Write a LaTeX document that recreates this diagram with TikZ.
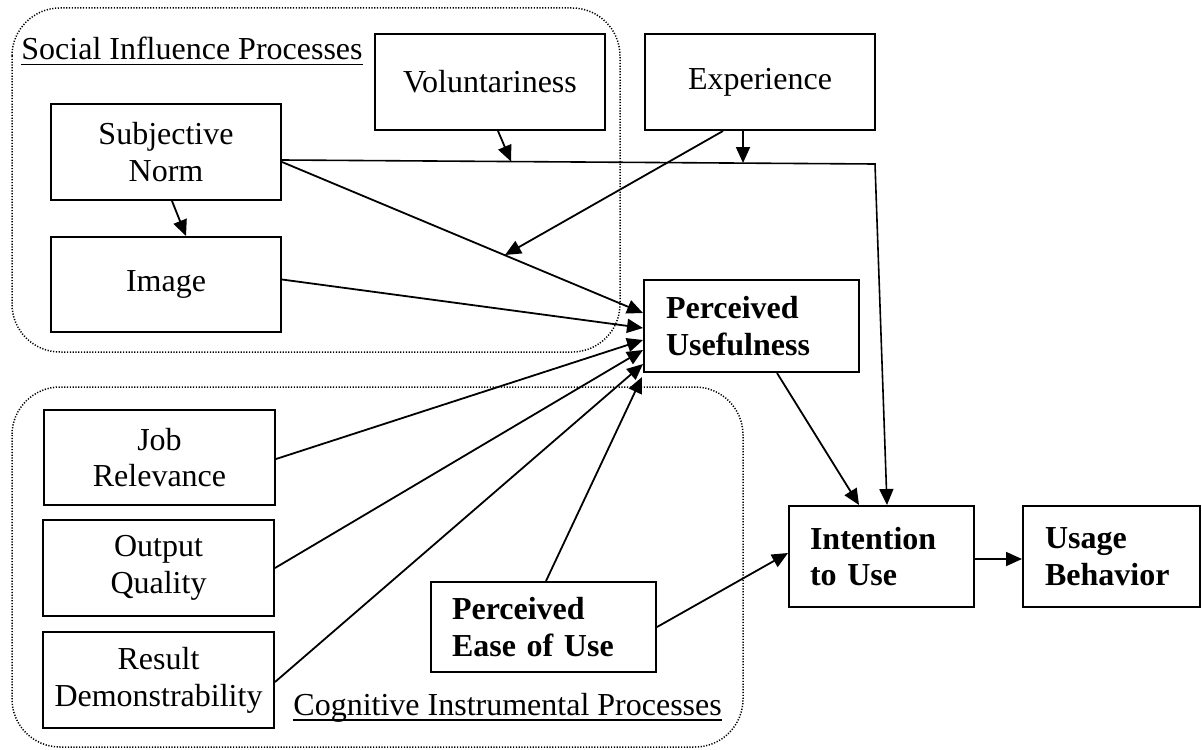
\documentclass[tikz,border=0pt]{standalone}
\usepackage{fontspec}
\setmainfont{Liberation Serif}
\usetikzlibrary{arrows.meta,calc}
\newcommand{\fs}{\fontsize{16}{18.4}\selectfont}
\begin{document}
\begin{tikzpicture}[x=0.5pt,y=-0.5pt,
  box/.style={draw, line width=1pt, inner sep=0pt, align=center, font=\fs},
  lbox/.style={draw, line width=1pt, inner ysep=0pt, align=left, font=\bfseries\fs},
  lab/.style={inner sep=0pt, font=\fs},
  arr/.style={line width=0.9pt, -{Triangle[length=8pt,width=7pt]}},
  group/.style={dash pattern=on 0.6pt off 0.8pt, line width=0.75pt, rounded corners=24pt}]
\useasboundingbox (0,0) rectangle (1202,749);
% groups
\draw[group] (12,8) rectangle (620,352);
\draw[group] (12,387) rectangle (743,747);
% group labels
\node[lab, anchor=base west] (sip) at (21,60) {Social Influence Processes};
\draw[line width=0.9pt] ($(sip.base west)+(0,4.5)$) -- ($(sip.base east)+(0,4.5)$);
\node[lab, anchor=base west] (cip) at (293,715) {Cognitive Instrumental Processes};
\draw[line width=0.9pt] ($(cip.base west)+(0,5)$) -- ($(cip.base east)+(0,5)$);
% nodes
\node[box, minimum width=115pt, minimum height=48pt] (sn) at (166,152) {Subjective\\Norm};
\node[box, minimum width=115pt, minimum height=47.5pt] (img) at (166,284.5) {Image};
\node[box, minimum width=115pt, minimum height=48pt] (vol) at (490,82) {Voluntariness};
\node[box, minimum width=115pt, minimum height=48pt] (exp) at (760,82) {Experience};
\node[lbox, text width=85.5pt, inner xsep=11pt, minimum height=46pt] (pu) at (751.5,326) {Perceived\\Usefulness};
\node[box, minimum width=115.5pt, minimum height=47.5pt] (job) at (159.5,457.5) {Job\\Relevance};
\node[box, minimum width=115.5pt, minimum height=48pt] (out) at (158.5,568) {Output\\Quality};
\node[box, minimum width=115.5pt, minimum height=48pt] (res) at (158.5,680) {Result\\Demonstrability};
\node[lbox, text width=91.5pt, inner xsep=10.5pt, minimum height=45pt] (peou) at (543.5,627) {Perceived\\Ease of Use};
\node[lbox, text width=71.5pt, inner xsep=10.5pt, minimum height=50.5pt] (itu) at (881.5,556.5) {Intention\\to Use};
\node[lbox, text width=66.5pt, inner xsep=11pt, minimum height=50.5pt] (ub) at (1111.5,556.5) {Usage\\Behavior};
% helper coordinates
\coordinate (corner) at (875,164);
\coordinate (vm) at (511,161.5);
\coordinate (em) at (743,163);
\coordinate (em2) at (505,255);
% connectors
\draw[arr] ($(sn.south)+(6,0)$) -- ($(img.north)+(20,0)$);
\draw[arr] ($(sn.east)+(0,10)$) -- ($(pu.west)+(0,-13)$);
\draw[arr, line width=0.8pt] ($(sn.east)+(0,8)$) -- (corner) -- ($(itu.north)+(5.5,0)$);
\draw[arr] ($(vol.south)+(8,0)$) -- (vm);
\draw[arr] ($(exp.south)+(-17,0)$) -- (em);
\draw[arr] ($(exp.south)+(-37,0)$) -- (em2);
\draw[arr] ($(img.east)+(0,-5)$) -- ($(pu.west)+(0,2)$);
\draw[arr] ($(job.east)+(0,1.5)$) -- ($(pu.west)+(0,14)$);
\draw[arr] (out.east) -- ($(pu.west)+(0,24)$);
\draw[arr] ($(res.east)+(0,2)$) -- ($(pu.west)+(0,38)$);
\draw[arr] ($(peou.north)+(2.5,0)$) -- ($(pu.south west)+(-1,4)$);
\draw[arr] ($(pu.south)+(25.5,0)$) -- ($(itu.north)+(-22.5,0)$);
\draw[arr] (peou.east) -- ($(itu.west)+(0,-3.5)$);
\draw[arr] ($(itu.east)+(0,2.5)$) -- ($(ub.west)+(0,2.5)$);
\end{tikzpicture}
\end{document}
